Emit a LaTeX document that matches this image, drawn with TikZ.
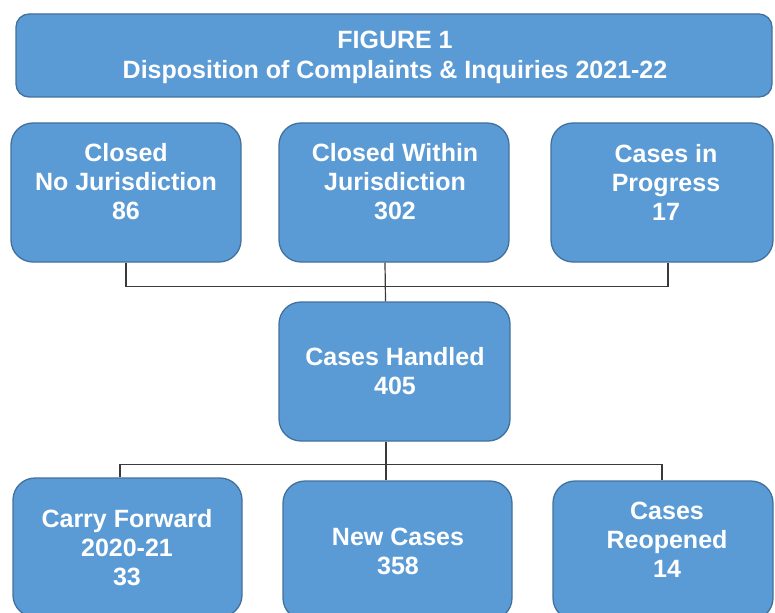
\documentclass[tikz,border=0pt]{standalone}
\usepackage{fontspec}
\setmainfont{Liberation Sans}
\usepackage{tikz}
\definecolor{panelblue}{HTML}{5B9BD5}
\definecolor{paneledge}{HTML}{41719C}
\definecolor{wirecol}{HTML}{3A3A3A}
\tikzset{panel/.style={draw=paneledge, fill=panelblue, line width=1.3pt, rounded corners=22pt, inner sep=0}}
\tikzset{panel text/.style={text=white, font=\fontsize{25}{29}\selectfont\bfseries, align=center, inner sep=0}}
\tikzset{link/.style={draw=wirecol, line width=1.2pt}}

\begin{document}
\begin{tikzpicture}[x=1pt, y=-1pt]
  \useasboundingbox (0,0) rectangle (775,612);

  % heading
  \node[panel, rounded corners=13pt, minimum width=756pt, minimum height=83pt] at (394, 55.5) (heading) {};
  \node[panel text, font=\fontsize{25}{30}\selectfont\bfseries] at (395, 57) (headingText) {FIGURE 1\\Disposition of Complaints \& Inquiries 2021-22};

  % outcomes
  \node[panel, minimum width=230pt, minimum height=139pt] at (126, 192.5) (noJur) {};
  \node[panel text] at (126, 182) (noJurText) {Closed\\No Jurisdiction\\86};
  \node[panel, minimum width=230pt, minimum height=139pt] at (394, 192.5) (within) {};
  \node[panel text] at (395, 182) (withinText) {Closed Within\\Jurisdiction\\302};
  \node[panel, minimum width=222pt, minimum height=139pt] at (662, 192.5) (inProg) {};
  \node[panel text] at (666, 182) (inProgText) {Cases in\\Progress\\17};

  % total
  \node[panel, minimum width=231pt, minimum height=139pt] at (394.5, 371.5) (handled) {};
  \node[panel text] at (395, 371) (handledText) {Cases Handled\\405};

  % sources
  \node[panel, minimum width=229pt, minimum height=139pt] at (127.5, 547.5) (carry) {};
  \node[panel text] at (127, 548) (carryText) {Carry Forward\\2020-21\\33};
  \node[panel, minimum width=229pt, minimum height=139pt] at (397.5, 550.5) (newCases) {};
  \node[panel text] at (398, 551) (newCasesText) {New Cases\\358};
  \node[panel, minimum width=220pt, minimum height=139pt] at (663, 550.5) (reopened) {};
  \node[panel text] at (667, 540) (reopenedText) {Cases\\Reopened\\14};

  % wiring
  \draw[link] (noJur.south) -- ++(0,23.5) -| ([xshift=6pt]inProg.south);
  \draw[link] ([xshift=-9pt]within.south) -- ([xshift=-9pt]handled.north);
  \draw[link] ([xshift=-8.5pt]handled.south) -- ([xshift=-11.5pt]newCases.north);
  \draw[link] ([xshift=-7.5pt]carry.north) -- ++(0,-13) -| ([xshift=-1pt]reopened.north);
\end{tikzpicture}
\end{document}
